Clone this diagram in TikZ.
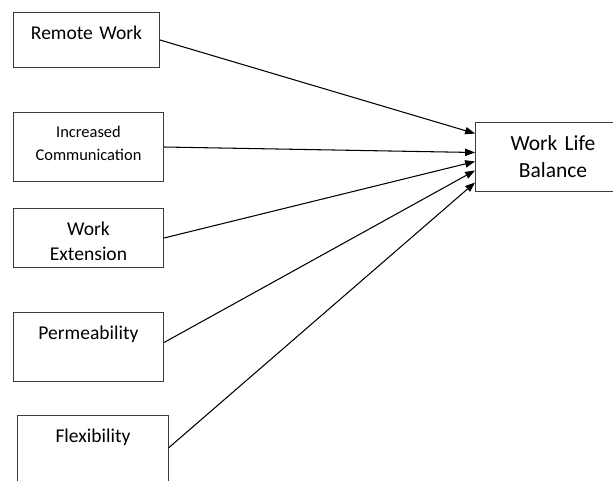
\documentclass[tikz,border=0pt]{standalone}
\usepackage{fontspec}
\setmainfont{Carlito}
\usepackage{tikz}
\usetikzlibrary{arrows.meta}
\definecolor{boxline}{RGB}{60,60,60}
\tikzset{
  factor/.style={rectangle, draw=boxline, line width=0.7pt, anchor=north west,
    inner sep=0pt, align=center, font=\fontsize{13.9pt}{17.8pt}\selectfont},
  outcome/.style={factor, font=\fontsize{15.3pt}{19.2pt}\selectfont},
  arrow/.style={-{Triangle[length=7pt,width=5.2pt]}, line width=0.75pt, color=black}
}
\begin{document}
\begin{tikzpicture}[x=0.025cm, y=-0.025cm]
  \useasboundingbox (0,0) rectangle (613,481);

  % Factors
  \node[factor, text width=3.65cm, text height=0.675cm, text depth=0.7cm] (remote) at (13,12) {Remote Work};
  \node[factor, text width=3.75cm, text height=0.625cm, text depth=1.1cm,
        font=\fontsize{11.7pt}{16.4pt}\selectfont] (incomm) at (13,112) {Increased\\Communication};
  \node[factor, text width=3.75cm, text height=0.675cm, text depth=0.8cm] (ext) at (13,208) {Work\\Extension};
  \node[factor, text width=3.75cm, text height=0.675cm, text depth=1.05cm] (perm) at (13,312) {Permeability};
  \node[factor, text width=3.775cm, text height=0.675cm, text depth=1.2cm] (flex) at (17,415) {Flexibility};

  % Outcome
  \node[outcome, text width=3.875cm, text height=0.7cm, text depth=1.025cm] (wlb) at (475,122) {Work Life\\Balance};

  % Arrows
  \foreach \src/\sy/\dy in {remote/0/0.5875, incomm/0/0.1125, ext/0/-0.1125, perm/0.1125/-0.3375, flex/0.1375/-0.6375} {
    \draw[arrow] ([yshift=\sy cm]\src.east) -- ([yshift=\dy cm]wlb.west);
  }
\end{tikzpicture}
\end{document}
